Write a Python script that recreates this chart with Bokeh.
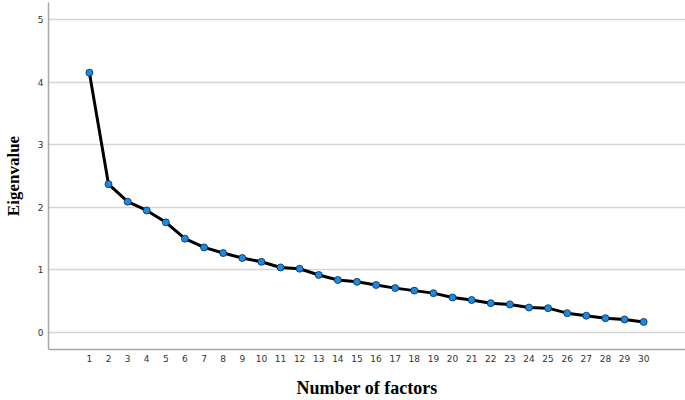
from bokeh.plotting import figure
from bokeh.models import Range1d, FixedTicker
from bokeh.embed import file_html
from bokeh.resources import INLINE

factors = list(range(1, 31))
eigenvalues = [4.15, 2.37, 2.09, 1.95, 1.76, 1.50, 1.36, 1.27, 1.19, 1.13,
               1.04, 1.02, 0.92, 0.84, 0.81, 0.76, 0.71, 0.67, 0.63, 0.56,
               0.52, 0.47, 0.45, 0.40, 0.39, 0.31, 0.27, 0.23, 0.21, 0.17]
y_ticks = [0, 1, 2, 3, 4, 5]
x_label = "Number of factors"
y_label = "Eigenvalue"

p = figure(width=685, height=400, output_backend="svg", toolbar_location=None,
           x_range=Range1d(-1.14, 32.19), y_range=Range1d(-0.27, 5.27),
           min_border_left=46, min_border_right=0, min_border_top=2, min_border_bottom=51)
p.outline_line_color = None
p.background_fill_color = "white"

p.line(factors, eigenvalues, line_color="black", line_width=3)
p.scatter(factors, eigenvalues, size=7, fill_color="#1a8ae6", line_color="#0a2a4a", line_width=0.8)

p.xaxis.ticker = FixedTicker(ticks=factors)
p.yaxis.ticker = FixedTicker(ticks=y_ticks)
p.xgrid.grid_line_color = None
p.ygrid.grid_line_color = "#d6d6d6"
p.ygrid.grid_line_width = 1.5

for ax in (p.xaxis, p.yaxis):
    ax.axis_line_color = "#a8a8a8"
    ax.axis_line_width = 1.5
    ax.major_tick_line_color = None
    ax.minor_tick_line_color = None
    ax.major_tick_out = 0
    ax.major_tick_in = 0
    ax.minor_tick_out = 0
    ax.minor_tick_in = 0
    ax.major_label_text_font = "DejaVu Sans"
    ax.major_label_text_font_size = "9px"
    ax.major_label_text_color = "#333333"
    ax.axis_label_text_font = "Liberation Serif"
    ax.axis_label_text_font_style = "bold"
    ax.axis_label_text_color = "black"

p.xaxis.axis_label_text_font_size = "18px"
p.yaxis.axis_label_text_font_size = "17px"
p.xaxis.major_label_standoff = 5
p.yaxis.major_label_standoff = 5
p.xaxis.axis_label = x_label
p.yaxis.axis_label = y_label
p.xaxis.axis_label_standoff = 13
p.yaxis.axis_label_standoff = 12

open("out.html", "w").write(file_html(p, INLINE))
